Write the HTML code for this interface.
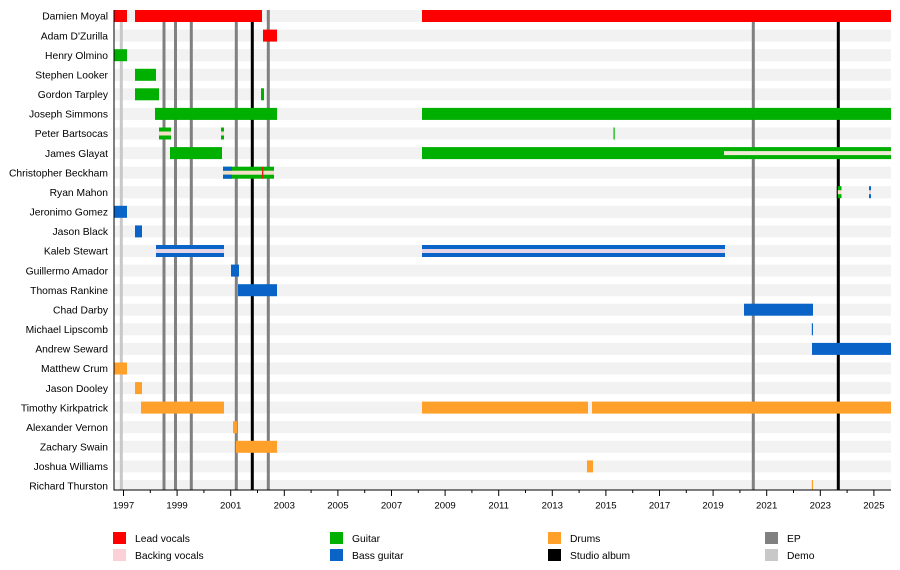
<!DOCTYPE html>
<html><head><meta charset="utf-8"><style>
html,body{margin:0;padding:0;background:#fff;}
svg{display:block;}
text{font-family:"Liberation Sans",Arial,sans-serif;fill:#000;}
</style></head><body>
<svg width="900" height="570" viewBox="0 0 900 570" xmlns="http://www.w3.org/2000/svg">
<!-- row bands -->
<g fill="#f2f2f2">
<rect x="114" y="10" width="777" height="12"/>
<rect x="114" y="29.6" width="777" height="12"/>
<rect x="114" y="49.2" width="777" height="12"/>
<rect x="114" y="68.8" width="777" height="12"/>
<rect x="114" y="88.3" width="777" height="12"/>
<rect x="114" y="107.9" width="777" height="12"/>
<rect x="114" y="127.5" width="777" height="12"/>
<rect x="114" y="147.1" width="777" height="12"/>
<rect x="114" y="166.7" width="777" height="12"/>
<rect x="114" y="186.2" width="777" height="12"/>
<rect x="114" y="205.8" width="777" height="12"/>
<rect x="114" y="225.4" width="777" height="12"/>
<rect x="114" y="245" width="777" height="12"/>
<rect x="114" y="264.6" width="777" height="12"/>
<rect x="114" y="284.2" width="777" height="12"/>
<rect x="114" y="303.7" width="777" height="12"/>
<rect x="114" y="323.3" width="777" height="12"/>
<rect x="114" y="342.9" width="777" height="12"/>
<rect x="114" y="362.5" width="777" height="12"/>
<rect x="114" y="382.1" width="777" height="12"/>
<rect x="114" y="401.6" width="777" height="12"/>
<rect x="114" y="421.2" width="777" height="12"/>
<rect x="114" y="440.8" width="777" height="12"/>
<rect x="114" y="460.4" width="777" height="12"/>
<rect x="114" y="480" width="777" height="10"/>
</g>
<!-- vertical release lines -->
<rect x="119.8" y="10" width="3" height="480" fill="#c8c8c8"/>
<g fill="#808080">
<rect x="162.5" y="10" width="3" height="480"/>
<rect x="174" y="10" width="3" height="480"/>
<rect x="189.8" y="10" width="3" height="480"/>
<rect x="234.8" y="10" width="3" height="480"/>
<rect x="266.8" y="10" width="3" height="480"/>
<rect x="751.8" y="10" width="3" height="480"/>
</g>
<g fill="#000">
<rect x="250.8" y="10" width="3" height="480"/>
<rect x="836.8" y="10" width="3" height="480"/>
</g>
<!-- Row 0 Damien Moyal c=16 -->
<g fill="#ff0000">
<rect x="114" y="10" width="13" height="12"/>
<rect x="135" y="10" width="127" height="12"/>
<rect x="422" y="10" width="469" height="12"/>
<!-- Row 1 Adam c=35.6 -->
<rect x="263" y="29.6" width="14" height="12"/>
</g>
<g fill="#00b000">
<!-- Row 2 Henry c=55.2 -->
<rect x="114" y="49.2" width="13" height="12"/>
<!-- Row 3 Stephen c=74.8 -->
<rect x="135" y="68.8" width="21" height="12"/>
<!-- Row 4 Gordon c=94.3 -->
<rect x="135" y="88.3" width="24" height="12"/>
<rect x="261" y="88.3" width="3" height="12"/>
<!-- Row 5 Joseph c=113.9 -->
<rect x="155" y="107.9" width="122" height="12"/>
<rect x="422" y="107.9" width="469" height="12"/>
<!-- Row 6 Peter c=133.5 -->
<rect x="159" y="127.5" width="12" height="12"/>
<rect x="221" y="127.5" width="3" height="12"/>
<rect x="613.5" y="127.5" width="1.2" height="12"/>
<!-- Row 7 James c=153.1 -->
<rect x="170" y="147.1" width="52" height="12"/>
<rect x="422" y="147.1" width="469" height="12"/>
<!-- Row 8 Christopher c=172.7 -->
<rect x="223" y="166.7" width="51" height="12"/>
<!-- Row 9 Ryan c=192.2 -->
<rect x="837.5" y="186.2" width="4" height="12"/>
</g>
<!-- backing stripes -->
<g fill="#f3dfc8">
<rect x="159" y="131.5" width="12" height="4"/>
<rect x="221" y="131.5" width="3" height="4"/>
<rect x="724" y="151.1" width="167" height="4" fill="#efe9d6"/>
<rect x="223" y="170.7" width="51" height="4"/>
<rect x="837.5" y="190.2" width="4" height="4"/>
</g>
<!-- Christopher blue start -->
<rect x="223" y="166.7" width="9" height="4" fill="#0a64c8"/>
<rect x="223" y="174.7" width="9" height="4" fill="#0a64c8"/>
<rect x="262" y="166.7" width="1.3" height="12" fill="#e02010"/>
<rect x="836.8" y="186.2" width="1" height="12" fill="#000"/>
<g fill="#0a64c8">
<!-- Ryan blue -->
<rect x="869" y="186.2" width="2" height="12"/>
<!-- Row 10 Jeronimo c=211.8 -->
<rect x="114" y="205.8" width="13" height="12"/>
<!-- Row 11 Jason Black c=231.4 -->
<rect x="135" y="225.4" width="7" height="12"/>
<!-- Row 12 Kaleb c=251 -->
<rect x="156" y="245" width="68" height="12"/>
<rect x="422" y="245" width="303" height="12"/>
<!-- Row 13 Guillermo c=270.6 -->
<rect x="231" y="264.6" width="8" height="12"/>
<!-- Row 14 Thomas c=290.2 -->
<rect x="238" y="284.2" width="39" height="12"/>
<!-- Row 15 Chad c=309.7 -->
<rect x="744" y="303.7" width="69" height="12"/>
<!-- Row 16 Michael c=329.3 -->
<rect x="811.8" y="323.3" width="1.2" height="12"/>
<!-- Row 17 Andrew c=348.9 -->
<rect x="812" y="342.9" width="79" height="12"/>
</g>
<g fill="#e4d6e8">
<rect x="156" y="249" width="68" height="4"/>
<rect x="422" y="249" width="303" height="4"/>
<rect x="869" y="190.2" width="2" height="4" fill="#f0d8d8"/>
</g>
<g fill="#ffa02a">
<!-- Row 18 Matthew c=368.5 -->
<rect x="114" y="362.5" width="13" height="12"/>
<!-- Row 19 Jason Dooley c=388.1 -->
<rect x="135" y="382.1" width="7" height="12"/>
<!-- Row 20 Timothy c=407.6 -->
<rect x="141" y="401.6" width="83" height="12"/>
<rect x="422" y="401.6" width="166" height="12"/>
<rect x="592" y="401.6" width="299" height="12"/>
<!-- Row 21 Alexander c=427.2 -->
<rect x="233" y="421.2" width="4" height="12"/>
<!-- Row 22 Zachary c=446.8 -->
<rect x="236" y="440.8" width="41" height="12"/>
<!-- Row 23 Joshua c=466.4 -->
<rect x="587" y="460.4" width="6" height="12"/>
<!-- Row 24 Richard c=486 -->
<rect x="811.8" y="480" width="1.2" height="10"/>
</g>
<!-- axes -->
<rect x="113.5" y="10" width="1" height="480.5" fill="#000"/>
<rect x="113.5" y="489.5" width="777.5" height="1" fill="#000"/>
<!-- ticks -->
<g stroke="#000" stroke-width="1">
<line x1="123.5" y1="490" x2="123.5" y2="496"/>
<line x1="150.3" y1="490" x2="150.3" y2="493"/>
<line x1="177.1" y1="490" x2="177.1" y2="496"/>
<line x1="203.9" y1="490" x2="203.9" y2="493"/>
<line x1="230.7" y1="490" x2="230.7" y2="496"/>
<line x1="257.5" y1="490" x2="257.5" y2="493"/>
<line x1="284.3" y1="490" x2="284.3" y2="496"/>
<line x1="311.1" y1="490" x2="311.1" y2="493"/>
<line x1="337.9" y1="490" x2="337.9" y2="496"/>
<line x1="364.7" y1="490" x2="364.7" y2="493"/>
<line x1="391.5" y1="490" x2="391.5" y2="496"/>
<line x1="418.3" y1="490" x2="418.3" y2="493"/>
<line x1="445.1" y1="490" x2="445.1" y2="496"/>
<line x1="471.9" y1="490" x2="471.9" y2="493"/>
<line x1="498.7" y1="490" x2="498.7" y2="496"/>
<line x1="525.5" y1="490" x2="525.5" y2="493"/>
<line x1="552.3" y1="490" x2="552.3" y2="496"/>
<line x1="579.1" y1="490" x2="579.1" y2="493"/>
<line x1="605.9" y1="490" x2="605.9" y2="496"/>
<line x1="632.7" y1="490" x2="632.7" y2="493"/>
<line x1="659.5" y1="490" x2="659.5" y2="496"/>
<line x1="686.3" y1="490" x2="686.3" y2="493"/>
<line x1="713.1" y1="490" x2="713.1" y2="496"/>
<line x1="739.9" y1="490" x2="739.9" y2="493"/>
<line x1="766.7" y1="490" x2="766.7" y2="496"/>
<line x1="793.5" y1="490" x2="793.5" y2="493"/>
<line x1="820.3" y1="490" x2="820.3" y2="496"/>
<line x1="847.1" y1="490" x2="847.1" y2="493"/>
<line x1="873.9" y1="490" x2="873.9" y2="496"/>
</g>
<g font-size="9.6" text-anchor="middle">
<text x="123.5" y="508.5">1997</text>
<text x="177.1" y="508.5">1999</text>
<text x="230.7" y="508.5">2001</text>
<text x="284.3" y="508.5">2003</text>
<text x="337.9" y="508.5">2005</text>
<text x="391.5" y="508.5">2007</text>
<text x="445.1" y="508.5">2009</text>
<text x="498.7" y="508.5">2011</text>
<text x="552.3" y="508.5">2013</text>
<text x="605.9" y="508.5">2015</text>
<text x="659.5" y="508.5">2017</text>
<text x="713.1" y="508.5">2019</text>
<text x="766.7" y="508.5">2021</text>
<text x="820.3" y="508.5">2023</text>
<text x="873.9" y="508.5">2025</text>
</g>
<!-- names -->
<g font-size="10.3" text-anchor="end">
<text x="108" y="19.7">Damien Moyal</text>
<text x="108" y="39.3">Adam D'Zurilla</text>
<text x="108" y="58.9">Henry Olmino</text>
<text x="108" y="78.5">Stephen Looker</text>
<text x="108" y="98">Gordon Tarpley</text>
<text x="108" y="117.6">Joseph Simmons</text>
<text x="108" y="137.2">Peter Bartsocas</text>
<text x="108" y="156.8">James Glayat</text>
<text x="108" y="176.4">Christopher Beckham</text>
<text x="108" y="195.9">Ryan Mahon</text>
<text x="108" y="215.5">Jeronimo Gomez</text>
<text x="108" y="235.1">Jason Black</text>
<text x="108" y="254.7">Kaleb Stewart</text>
<text x="108" y="274.3">Guillermo Amador</text>
<text x="108" y="293.9">Thomas Rankine</text>
<text x="108" y="313.4">Chad Darby</text>
<text x="108" y="333">Michael Lipscomb</text>
<text x="108" y="352.6">Andrew Seward</text>
<text x="108" y="372.2">Matthew Crum</text>
<text x="108" y="391.8">Jason Dooley</text>
<text x="108" y="411.3">Timothy Kirkpatrick</text>
<text x="108" y="430.9">Alexander Vernon</text>
<text x="108" y="450.5">Zachary Swain</text>
<text x="108" y="470.1">Joshua Williams</text>
<text x="108" y="489.7">Richard Thurston</text>
</g>
<!-- legend -->
<rect x="113" y="532" width="13" height="12" fill="#ff0000"/>
<rect x="113" y="549" width="13" height="12" fill="#fbd0d6"/>
<rect x="330" y="532" width="13" height="12" fill="#00b000"/>
<rect x="330" y="549" width="13" height="12" fill="#0a64c8"/>
<rect x="548" y="532" width="13" height="12" fill="#ffa02a"/>
<rect x="548" y="549" width="13" height="12" fill="#000"/>
<rect x="765" y="532" width="13" height="12" fill="#808080"/>
<rect x="765" y="549" width="13" height="12" fill="#c8c8c8"/>
<g font-size="10.3">
<text x="135" y="541.8">Lead vocals</text>
<text x="135" y="558.8">Backing vocals</text>
<text x="352" y="541.8">Guitar</text>
<text x="352" y="558.8">Bass guitar</text>
<text x="570" y="541.8">Drums</text>
<text x="570" y="558.8">Studio album</text>
<text x="787" y="541.8">EP</text>
<text x="787" y="558.8">Demo</text>
</g>
</svg>
</body></html>
